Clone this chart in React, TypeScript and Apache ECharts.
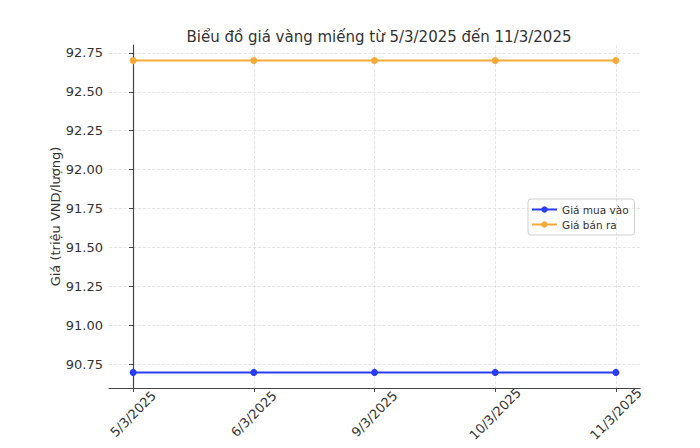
import { useEffect, useRef } from "react";
import * as echarts from "echarts";

const dates = ["5/3/2025", "6/3/2025", "9/3/2025", "10/3/2025", "11/3/2025"];
const buyPrices = [90.7, 90.7, 90.7, 90.7, 90.7];
const sellPrices = [92.7, 92.7, 92.7, 92.7, 92.7];
const yTicks = [90.75, 91.0, 91.25, 91.5, 91.75, 92.0, 92.25, 92.5, 92.75];

const FONT = "DejaVu Sans";
const TEXT = "#333";

export default function App() {
  const containerRef = useRef<HTMLDivElement>(null);

  useEffect(() => {
    if (!containerRef.current) return;
    const chart = echarts.init(containerRef.current, null, { renderer: "svg" });
    const xIdx = dates.map((_, i) => i);

    chart.setOption({
      animation: false,
      backgroundColor: "#fff",
      textStyle: { fontFamily: FONT },
      title: {
        text: "Biểu đồ giá vàng miếng từ 5/3/2025 đến 11/3/2025",
        left: 374,
        top: 24,
        textAlign: "center",
        textStyle: { fontFamily: FONT, fontSize: 15, fontWeight: "normal", color: TEXT },
      },
      grid: { left: 109, right: 60, top: 45, bottom: 60 },
      legend: {
        orient: "vertical",
        left: 528,
        top: 199,
        padding: [5, 6, 5, 3],
        itemGap: 4,
        itemWidth: 25,
        itemHeight: 8,
        borderColor: "#d0d0d0",
        borderWidth: 1,
        borderRadius: 3,
        textStyle: { fontFamily: FONT, fontSize: 10.5, color: TEXT },
        data: ["Giá mua vào", "Giá bán ra"],
      },
      graphic: [
        {
          type: "circle",
          shape: { cx: 356, cy: 453, r: 13 },
          style: { fill: "none", stroke: "#cfcfcf", lineWidth: 1 },
          silent: true,
        },
      ],
      xAxis: {
        type: "value",
        min: -0.2,
        max: 4.2,
        axisLine: { lineStyle: { color: "#444", width: 1.2 } },
        axisTick: { show: true, length: 4, customValues: xIdx, lineStyle: { color: "#444" } },
        axisLabel: {
          customValues: xIdx,
          rotate: 45,
          align: "center",
          verticalAlign: "middle",
          fontFamily: FONT,
          fontSize: 13,
          color: TEXT,
          margin: 26,
          formatter: (v: number) => dates[Math.round(v)] ?? "",
        },
        splitLine: { show: true, lineStyle: { color: "#ddd", type: "dashed", width: 0.8 } },
      },
      yAxis: {
        type: "value",
        min: 90.6,
        max: 92.8,
        name: "Giá (triệu VND/lượng)",
        nameLocation: "middle",
        nameGap: 47,
        nameMoveOverlap: false,
        nameTextStyle: { fontFamily: FONT, fontSize: 13, color: TEXT },
        axisLine: { show: true, lineStyle: { color: "#444", width: 1.2 } },
        axisTick: { show: true, length: 4, customValues: yTicks, lineStyle: { color: "#444" } },
        axisLabel: {
          customValues: yTicks,
          fontFamily: FONT,
          fontSize: 13,
          color: TEXT,
          margin: 6,
          formatter: (v: number) => v.toFixed(2),
        },
        splitLine: { show: true, lineStyle: { color: "#ddd", type: "dashed", width: 0.8 } },
      },
      series: [
        {
          name: "Giá mua vào",
          type: "line",
          data: buyPrices.map((v, i) => [i, v]),
          symbol: "circle",
          symbolSize: 7,
          itemStyle: { color: "#2a3cf5" },
          lineStyle: { color: "#2a3cf5", width: 2 },
        },
        {
          name: "Giá bán ra",
          type: "line",
          data: sellPrices.map((v, i) => [i, v]),
          symbol: "circle",
          symbolSize: 7,
          itemStyle: { color: "#f7a93a" },
          lineStyle: { color: "#f7a93a", width: 2 },
        },
      ],
    });

    return () => chart.dispose();
  }, []);

  return <div ref={containerRef} style={{ width: 700, height: 448, margin: -8 }} />;
}
